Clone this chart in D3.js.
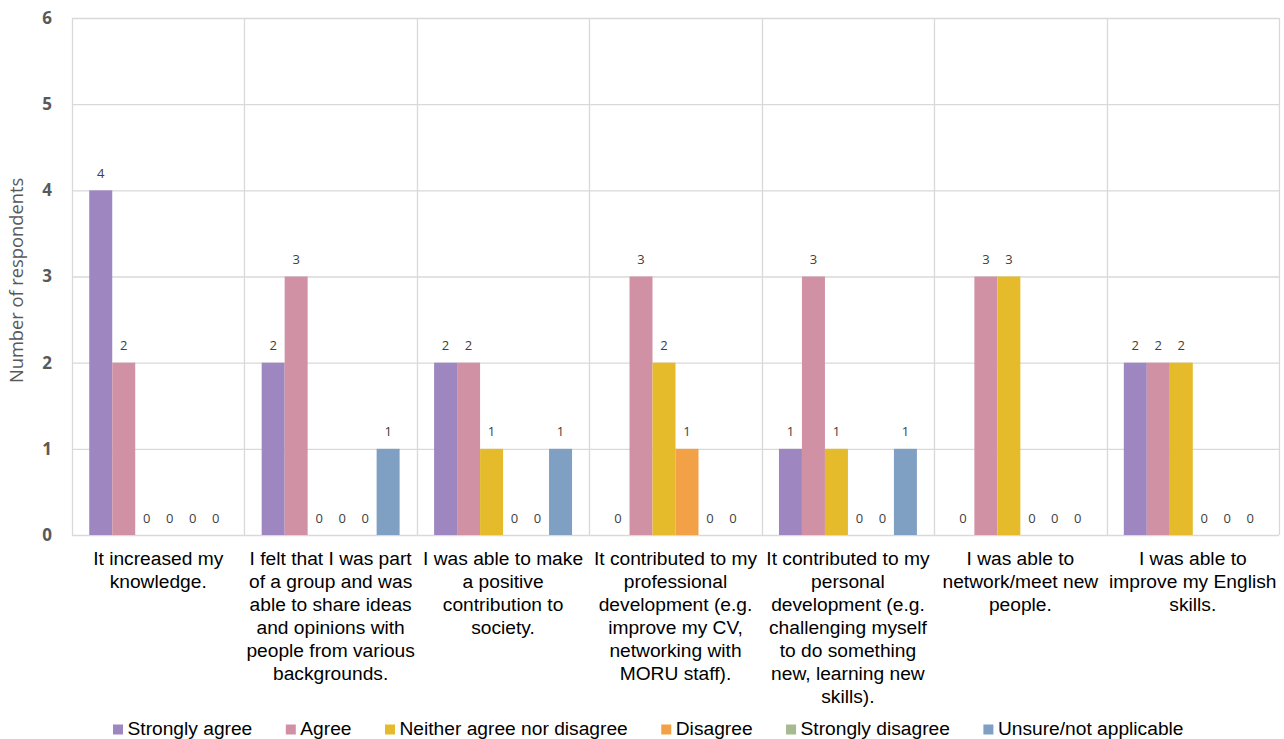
<!DOCTYPE html>
<html>
<head>
<meta charset="utf-8">
<script src="https://cdn.jsdelivr.net/npm/d3@7"></script>
<style>
  html, body { margin: 0; padding: 0; background: #fff; }
  svg { display: block; }
</style>
</head>
<body>
<svg id="chart" width="1284" height="739"></svg>
<script>
// Survey statements (line breaks as shown under the axis)
const categories = [
  "It increased my\nknowledge.",
  "I felt that I was part\nof a group and was\nable to share ideas\nand opinions with\npeople from various\nbackgrounds.",
  "I was able to make\na positive\ncontribution to\nsociety.",
  "It contributed to my\nprofessional\ndevelopment (e.g.\nimprove my CV,\nnetworking with\nMORU staff).",
  "It contributed to my\npersonal\ndevelopment (e.g.\nchallenging myself\nto do something\nnew, learning new\nskills).",
  "I was able to\nnetwork/meet new\npeople.",
  "I was able to\nimprove my English\nskills."
];

const seriesNames = [
  "Strongly agree",
  "Agree",
  "Neither agree nor disagree",
  "Disagree",
  "Strongly disagree",
  "Unsure/not applicable"
];

// Responses per statement, one array per answer option
const stronglyAgree    = [4, 2, 2, 0, 1, 0, 2];
const agree            = [2, 3, 2, 3, 3, 3, 2];
const neither          = [0, 0, 1, 2, 1, 3, 2];
const disagree         = [0, 0, 0, 1, 0, 0, 0];
const stronglyDisagree = [0, 0, 0, 0, 0, 0, 0];
const unsure           = [0, 1, 1, 0, 1, 0, 0];

const seriesValues = [stronglyAgree, agree, neither, disagree, stronglyDisagree, unsure];
const seriesColors = ["#9e87c0", "#d091a5", "#e5bb2b", "#f2a147", "#a6b990", "#7f9fc3"];

const yTicks = [0, 1, 2, 3, 4, 5, 6];
const yTitle = "Number of respondents";

const svg = d3.select("#chart");
const margin = { left: 72, right: 5, top: 18, bottom: 204 };
const W = 1284, H = 739;
const plotW = W - margin.left - margin.right;
const plotH = H - margin.top - margin.bottom;

const g = svg.append("g").attr("transform", `translate(${margin.left},${margin.top})`);

const x0 = d3.scaleBand().domain(d3.range(categories.length)).range([0, plotW]).paddingInner(0).paddingOuter(0);
const x1 = d3.scaleBand().domain(d3.range(seriesNames.length)).range([0, x0.bandwidth()]).paddingInner(0).paddingOuter(0.75);
const y = d3.scaleLinear().domain([0, 6]).range([plotH, 0]);

const gridColor = "#d9d9d9";

// horizontal gridlines
g.append("g").selectAll("line").data(yTicks).join("line")
  .attr("x1", 0).attr("x2", plotW)
  .attr("y1", d => y(d) + 0.5).attr("y2", d => y(d) + 0.5)
  .attr("stroke", gridColor).attr("stroke-width", 1.3);

// vertical gridlines at category boundaries
const bounds = d3.range(categories.length + 1).map(i => i === categories.length ? plotW : x0(i));
g.append("g").selectAll("line").data(bounds).join("line")
  .attr("x1", d => Math.round(d) + 0.5).attr("x2", d => Math.round(d) + 0.5)
  .attr("y1", 0).attr("y2", plotH)
  .attr("stroke", gridColor).attr("stroke-width", 1.3);

// y axis tick labels
const yAxis = d3.axisLeft(y).tickValues(yTicks).tickSize(0).tickPadding(20).tickFormat(d3.format("d"));
const ya = g.append("g").call(yAxis);
ya.select(".domain").remove();
ya.selectAll("text")
  .attr("font-family", "'Open Sans', sans-serif")
  .attr("font-size", 17).attr("font-weight", "bold").attr("fill", "#595959");

// y axis title
svg.append("text")
  .attr("transform", `translate(23,${margin.top + plotH / 2 + 4}) rotate(-90)`)
  .attr("text-anchor", "middle")
  .attr("font-family", "'Open Sans', sans-serif")
  .attr("font-size", 18.3).attr("fill", "#595959")
  .text(yTitle);

// bars
const groups = g.append("g").selectAll("g").data(categories).join("g")
  .attr("transform", (d, i) => `translate(${x0(i)},0)`);

const cells = groups.selectAll("g.cell")
  .data((d, i) => seriesValues.map((vals, s) => ({ s, v: vals[i] })))
  .join("g").attr("class", "cell");

cells.append("rect")
  .attr("x", d => x1(d.s))
  .attr("width", x1.bandwidth())
  .attr("y", d => y(d.v))
  .attr("height", d => y(0) - y(d.v))
  .attr("fill", d => seriesColors[d.s]);

cells.append("text")
  .attr("x", d => x1(d.s) + x1.bandwidth() / 2)
  .attr("y", d => y(d.v) - 12.5)
  .attr("text-anchor", "middle")
  .attr("font-family", "'Open Sans', sans-serif")
  .attr("font-size", 13).attr("fill", "#404040")
  .text(d => d.v);

// category labels
const catText = g.append("g").selectAll("text").data(categories).join("text")
  .attr("text-anchor", "middle")
  .attr("font-family", "'Liberation Sans', Arial, sans-serif")
  .attr("font-size", 19.2).attr("fill", "#000");
catText.each(function (d, i) {
  const t = d3.select(this);
  d.split("\n").forEach((line, k) => {
    t.append("tspan")
      .attr("x", x0(i) + x0.bandwidth() / 2)
      .attr("y", plotH + 29.5 + k * 23)
      .text(line);
  });
});

// legend
const legend = svg.append("g");
const legFont = 19.2;
let lx = 113;
seriesNames.forEach((name, s) => {
  legend.append("rect")
    .attr("x", lx).attr("y", 724.5).attr("width", 10).attr("height", 10)
    .attr("fill", seriesColors[s]);
  const t = legend.append("text")
    .attr("x", lx + 14.5).attr("y", 735)
    .attr("font-family", "'Liberation Sans', Arial, sans-serif")
    .attr("font-size", legFont).attr("fill", "#000")
    .text(name);
  lx += 14.5 + t.node().getComputedTextLength() + 33.5;
});
</script>
</body>
</html>
